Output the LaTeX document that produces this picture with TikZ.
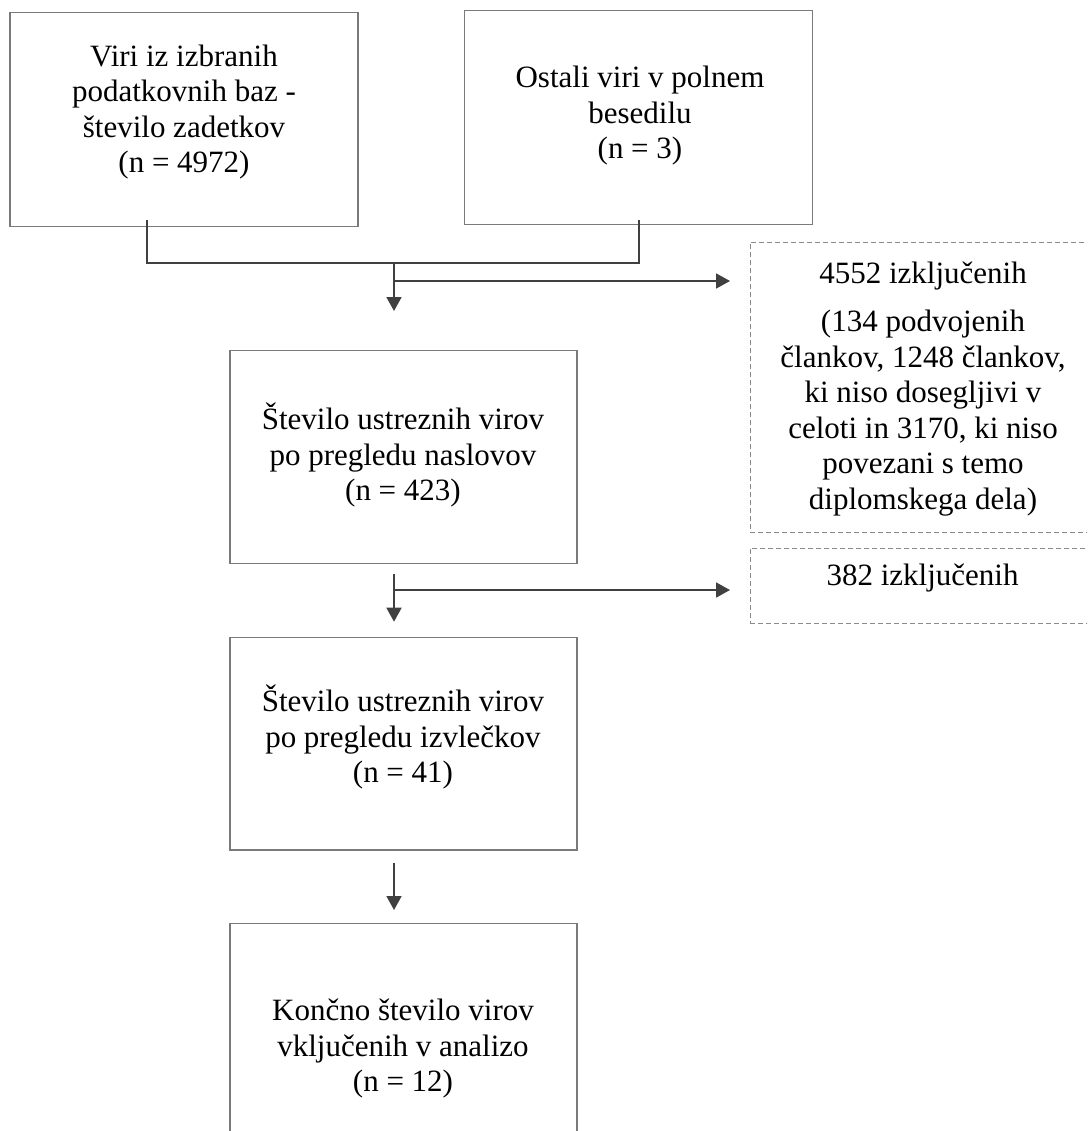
\documentclass[tikz,border=0pt]{standalone}
\usepackage{fontspec}
\setmainfont{Liberation Serif}
\usetikzlibrary{arrows.meta}
\definecolor{boxgray}{HTML}{7A7A7A}
\definecolor{dashgray}{HTML}{8A8A8A}
\definecolor{conncol}{HTML}{404040}
\begin{document}
\begin{tikzpicture}[x=1pt,y=-1pt,
  box/.style={draw=boxgray, line width=1.3pt, rectangle, inner sep=0pt, minimum width=347pt},
  dbox/.style={draw=dashgray, line width=1pt, dash pattern=on 5pt off 3pt, rectangle, inner sep=0pt, minimum width=346pt},
  txt/.style={align=center, font=\fontsize{31}{35.5}\selectfont, inner sep=0pt},
  conn/.style={draw=conncol, line width=1.8pt},
  arr/.style={conn, -{Triangle[length=14pt,width=15pt]}}]
\useasboundingbox (0,0) rectangle (1087,1131);
\clip (0,0) rectangle (1087,1131);
\fill[white] (0,0) rectangle (1087,1131);

% boxes
\node[box, minimum width=348pt, minimum height=214pt] (A) at (184,119.7) {};
\node[box, minimum width=348pt, minimum height=214pt] (B) at (638.5,117.7) {};
\node[box, minimum height=212.6pt] (C) at (403.5,457) {};
\node[box, minimum height=212.7pt] (D) at (403.5,743.7) {};
\node[box, minimum height=253.4pt] (E) at (403.5,1050) {};
\node[dbox, minimum height=290.2pt] (X1) at (923,387.6) {};
\node[dbox, minimum height=75pt] (X2) at (923,585.8) {};

% texts
\node[txt] (tA) at (184,112) {Viri iz izbranih\\podatkovnih baz -\\število zadetkov\\(n = 4972)};
\node[txt] (tB) at (640,116) {Ostali viri v polnem\\besedilu\\(n = 3)};
\node[txt] (tC) at (403,455) {Število ustreznih virov\\po pregledu naslovov\\(n = 423)};
\node[txt] (tD) at (403,737) {Število ustreznih virov\\po pregledu izvlečkov\\(n = 41)};
\node[txt] (tE) at (403,1049) {Končno število virov\\vključenih v analizo\\(n = 12)};
\node[txt] (tX1) at (923,389) {4552 izključenih\\[12.5pt](134 podvojenih\\člankov, 1248 člankov,\\ki niso dosegljivi v\\celoti in 3170, ki niso\\povezani s temo\\diplomskega dela)};
\node[txt] (tX2) at (922.5,578) {382 izključenih};

% connector points
\coordinate (a1) at (147,220);
\coordinate (jL) at (147,263);
\coordinate (jR) at (639,263);
\coordinate (b1) at (639,220);
\coordinate (m1) at (394,263);
\coordinate (m1e) at (394,311);
\coordinate (m1b) at (394,281);
\coordinate (x1e) at (730,281);
\coordinate (c1) at (394,574);
\coordinate (c1e) at (394,621.7);
\coordinate (c1b) at (394,590);
\coordinate (x2e) at (730,590);
\coordinate (d1) at (394,862.7);
\coordinate (d1e) at (394,910);

\draw[conn] (a1) -- (jL) -- (jR) -- (b1);
\draw[arr] (m1) -- (m1e);
\draw[arr] (m1b) -- (x1e);
\draw[arr] (c1) -- (c1e);
\draw[arr] (c1b) -- (x2e);
\draw[arr] (d1) -- (d1e);
\end{tikzpicture}
\end{document}
